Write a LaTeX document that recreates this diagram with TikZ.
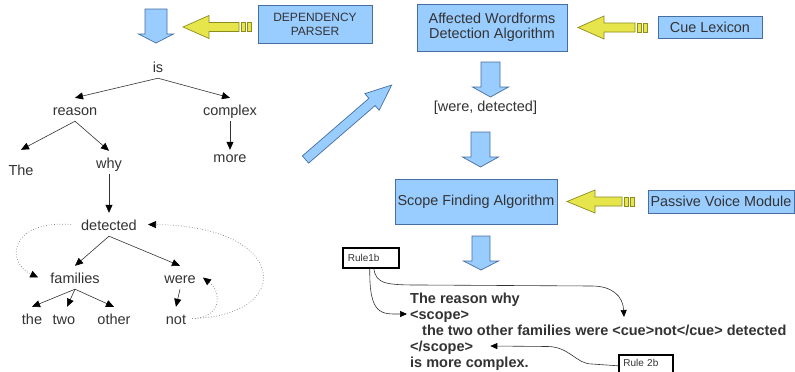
\documentclass[tikz,border=0pt]{standalone}
\usepackage{fontspec}
\setmainfont{Liberation Sans}
\usetikzlibrary{arrows.meta,calc}
\definecolor{bfill}{RGB}{153,204,255}
\definecolor{bdraw}{RGB}{70,110,160}
\definecolor{yfill}{RGB}{230,230,76}
\definecolor{ydraw}{RGB}{140,140,30}
\definecolor{tgray}{RGB}{51,51,51}
% blue block arrow pointing down: cx, top, shaft half, head half, shaft end, tip
\newcommand\mkbluedown[6]{\filldraw[barrow] (#1-#3,#2) -- (#1+#3,#2) -- (#1+#3,#5) -- (#1+#4,#5) -- (#1,#6) -- (#1-#4,#5) -- (#1-#3,#5) -- cycle;}
% yellow block arrow pointing left: tip x, tip y, head base x, shaft end x
\newcommand\mkyellowleft[4]{%
  \filldraw[yarrow] (#1,#2) -- (#3,#2-11.5) -- (#3,#2-4.5) -- (#4,#2-4.5) -- (#4,#2+4.5) -- (#3,#2+4.5) -- (#3,#2+11.5) -- cycle;
  \filldraw[yarrow] (#4+2,#2-4.5) rectangle (#4+6.5,#2+4.5);
  \filldraw[yarrow] (#4+8,#2-4.5) rectangle (#4+12,#2+4.5);}
\begin{document}
\begin{tikzpicture}[x=1pt,y=-1pt,
  barrow/.style={fill=bfill,draw=bdraw,line width=0.7pt,line join=miter},
  yarrow/.style={fill=yfill,draw=ydraw,line width=0.7pt},
  word/.style={font=\fontsize{14.5}{16}\selectfont,text=tgray,text height=13pt,text depth=2pt,inner ysep=4pt,inner xsep=2pt,anchor=base},
  bluebox/.style={fill=bfill,draw=bdraw,line width=0.7pt,text=tgray,align=center,inner sep=0pt,font=\fontsize{14.4}{15}\selectfont},
  rulebox/.style={draw=black,line width=1.6pt,fill=white,text=tgray,font=\fontsize{10}{12}\selectfont,inner xsep=5pt,inner ysep=0pt,align=left,anchor=north west},
  bline/.style={font=\fontsize{14.5}{16}\bfseries\selectfont,text=tgray,anchor=base west,inner xsep=3pt,inner ysep=0pt,text height=12pt,text depth=2pt},
  edge/.style={draw=tgray,line width=0.6pt,-{Triangle[length=8pt,width=7pt,color=black]}},
  dotedge/.style={draw=gray,dotted,line width=0.7pt,-{Triangle[length=8pt,width=7pt,color=black]}},
  redge/.style={draw=tgray,line width=0.6pt,-{Triangle[length=7pt,width=6pt,color=black]}}]
\clip (0,0) rectangle (795,372);
\fill[white] (0,0) rectangle (795,372);

% ---- top left: parser
\mkbluedown{156}{9}{11}{17.5}{34}{43}
\mkyellowleft{183}{27}{209}{239}
\node[bluebox,minimum width=114pt,minimum height=38pt,font=\fontsize{12}{14}\selectfont] (dp) at (315,24) {DEPENDENCY\\PARSER};

% ---- dependency tree
\node[word] (is) at (158,72) {is};
\node[word] (reason) at (75,115) {reason};
\node[word] (complex) at (230,115) {complex};
\node[word] (The) at (21,175) {The};
\node[word] (why) at (109,168) {why};
\node[word] (more) at (230,162) {more};
\node[word] (detected) at (109,230) {detected};
\node[word] (families) at (75,283) {families};
\node[word] (were) at (180,283) {were};
\node[word] (the) at (32,324) {the};
\node[word] (two) at (64,324) {two};
\node[word] (other) at (114,324) {other};
\node[word] (not) at (176,324) {not};

\draw[edge] (is.south) -- (reason.north);
\draw[edge] (is.south) -- (complex.north);
\draw[edge] (reason.south) -- ($(The.north)+(0,-8)$);
\draw[edge] (reason.south) -- (why.north);
\draw[edge] (complex.south) -- ($(more.north)+(0,5)$);
\draw[edge] (why.south) -- (detected.north);
\draw[edge] (detected.south) -- (families.north);
\draw[edge] (detected.south) -- (were.north);
\draw[edge] (families.south) -- (the.north);
\draw[edge] (families.south) -- ($(two.north)+(3,0)$);
\draw[edge] (families.south) -- (other.north);
\draw[edge] (were.south) -- (not.north);

\draw[dotedge] ($(detected.west)+(-8,0)$) .. controls (10,220) and (5,262) .. ($(families.west)+(-10,0)$);
\draw[dotedge] ($(not.east)+(4,0)$) .. controls (222,318) and (222,292) .. ($(were.east)+(5,0)$);
\draw[dotedge] ($(not.east)+(4,0)$) .. controls (295,316) and (290,226) .. ($(detected.east)+(9,0)$);

% ---- diagonal blue arrow
\filldraw[barrow] (302.4,155.9) -- (368.9,98.4) -- (364.8,93.7) -- (391.7,85) -- (379.2,110.3) -- (375.1,105.6) -- (308.6,163.1) -- cycle;

% ---- right column
\node[bluebox,minimum width=150pt,minimum height=47pt] (awd) at (492,27.5) {Affected Wordforms\\Detection Algorithm};
\mkyellowleft{578}{27.5}{604}{635}
\node[bluebox,minimum width=104pt,minimum height=22pt] (cue) at (710,27) {Cue Lexicon};
\mkbluedown{490.5}{62}{9.5}{18}{87}{97}
\node[word] (wd) at (485.5,111) {[were, detected]};
\mkbluedown{480.5}{132}{9.5}{18}{157}{167}
\node[bluebox,minimum width=162pt,minimum height=45pt] (sfa) at (476,201.5) {Scope Finding Algorithm};
\mkyellowleft{567}{201.5}{595}{622}
\node[bluebox,minimum width=146pt,minimum height=23pt] (pvm) at (721,201.5) {Passive Voice Module};
\mkbluedown{481}{236}{9}{17.5}{261}{270}

% ---- output text
\node[bline] (l1) at (407,303) {The reason why};
\node[bline] (l2) at (407,319) {<scope>};
\node[bline] (l3) at (419,335) {the two other families were <cue>not</cue> detected};
\node[bline] (l4) at (407,351) {</scope>};
\node[bline] (l5) at (407,367) {is more complex.};

\node[rulebox,text width=46pt,minimum height=20pt] (r1) at (342,247) {Rule1b};
\node[rulebox,text width=45pt,inner xsep=4.5pt,minimum height=22pt,text depth=6pt] (r2) at (618,354) {Rule 2b};
\coordinate (cuetip) at (624,317);

\draw[redge] ($(r1.south)+(-1,0)$) .. controls (369,316) and (382,314) .. (l2.west);
\draw[redge] ($(r1.south)+(3,0)$) .. controls (376,284) and (386,285) .. (420,285) -- (592,286) .. controls (612,286) and (623,296) .. (cuetip);
\draw[redge] (r2.west) -- (592,364) .. controls (576,364) and (570,347) .. (548,346.5) -- ($(l4.east)+(14,0)$);
\end{tikzpicture}
\end{document}
